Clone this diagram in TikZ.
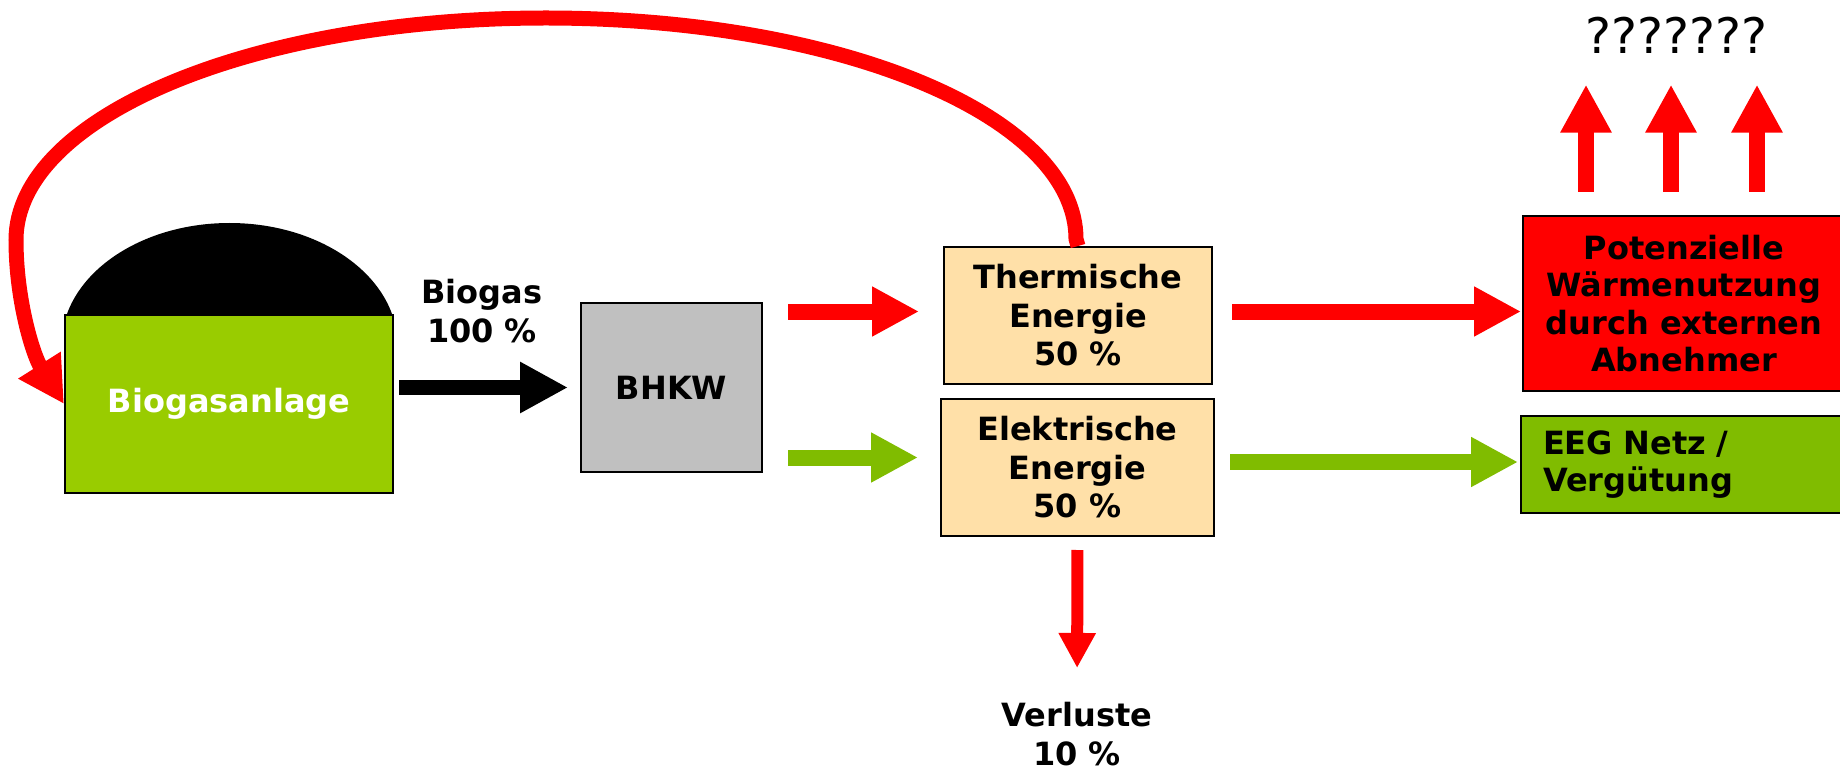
\documentclass[tikz,border=0pt]{standalone}
\usepackage{fontspec}
\setmainfont{DejaVu Sans}
\usepackage{xcolor}
\usepackage{tikz}
\usetikzlibrary{positioning,arrows.meta,calc}
\definecolor{heatred}{HTML}{FF0000}
\definecolor{powergreen}{HTML}{80BC00}
\definecolor{plantgreen}{HTML}{99CC00}
\definecolor{energybeige}{HTML}{FFE0A8}
\definecolor{bhkwgray}{HTML}{C0C0C0}

\begin{document}
\begin{tikzpicture}[x=0.5pt, y=-0.5pt,
  txt/.style={font=\fontsize{16}{19.25}\selectfont\bfseries, align=center, inner sep=0pt},
  box/.style={txt, draw, line width=1pt},
  energy/.style={box, fill=energybeige, minimum width=134pt, minimum height=68.5pt},
  heatflow/.style={-{Triangle[length=23.5pt,width=23.5pt]}, line width=8pt, heatred},
  powerflow/.style={-{Triangle[length=23.5pt,width=23.5pt]}, line width=8pt, powergreen},
  gasflow/.style={-{Triangle[length=24pt,width=24pt]}, line width=7.5pt, black},
  upflow/.style={-{Triangle[length=24pt,width=24pt]}, line width=8pt, heatred},
  lossflow/.style={-{Triangle[length=17.5pt,width=17.5pt]}, line width=6pt, heatred},
  backflow/.style={-{Triangle[length=23pt,width=23.5pt]}, line width=7.5pt, heatred},
]
\useasboundingbox (0,0) rectangle (1840,770);

% Plant and engine
\node[box, fill=plantgreen, text=white, minimum width=164pt, minimum height=89pt] (bio) at (229,404) {Biogasanlage};
\begin{scope}
  \clip (0,0) rectangle (bio.north east);
  \fill (229.5,345) ellipse [x radius=84pt, y radius=61pt];
\end{scope}
\node[txt] (gaslbl) at (482,311) {Biogas\\100 \%};
\node[box, fill=bhkwgray, minimum width=90.5pt, minimum height=84.5pt] (bhkw) at (671.5,387.5) {BHKW};

% Energy shares
\node[energy] (therm) at (1078,315.5) {Thermische\\Energie\\50 \%};
\node[energy, minimum width=136.5pt] (elek) at (1077.5,467.5) {Elektrische\\Energie\\50 \%};
\node[txt] (verl) at (1077,734) {Verluste\\10 \%};

% Consumers
\node[box, fill=heatred, minimum width=161pt, minimum height=87.5pt, font=\fontsize{16}{18.75}\selectfont\bfseries] (waerme) at (1684,303.5) {Potenzielle\\Wärmenutzung\\durch externen\\Abnehmer};
\node[box, fill=powergreen, align=left, text width=140pt, inner xsep=11pt, minimum height=48.5pt, font=\fontsize{16}{18.5}\selectfont\bfseries] (eeg) at (1683,464.5) {EEG Netz /\\Vergütung};
\node[inner sep=0pt, font=\fontsize{24.5}{29}\selectfont] (fragen) at (1676,35) {???????};

% Flows
\draw[gasflow, shorten <=2.5pt, shorten >=6pt] (bio.east |- bhkw.west) -- (bhkw.west);
\coordinate (thin) at ([yshift=2pt]therm.west);
\draw[heatflow, shorten <=12.5pt, shorten >=12pt] (bhkw.east |- thin) -- (thin);
\coordinate (elin) at ([yshift=5pt]elek.west);
\draw[powerflow, shorten <=12.5pt, shorten >=11pt] (bhkw.east |- elin) -- (elin);
\coordinate (thout) at ([yshift=2pt]therm.east);
\draw[heatflow, shorten <=9.5pt, shorten >=0.5pt] (thout) -- (thout -| waerme.west);
\coordinate (elout) at ([yshift=2.75pt]elek.east);
\draw[powerflow, shorten <=7.5pt, shorten >=1pt] (elout) -- (elout -| eeg.west);
\draw[lossflow, shorten <=6.5pt, shorten >=17pt] (elek.south) -- (verl.north);
\foreach \ux [count=\i] in {1586,1671,1757} {
  \coordinate (up\i) at (\ux,0);
  \draw[upflow, shorten <=11.5pt, shorten >=15.5pt] (waerme.north -| up\i) -- (fragen.south -| up\i);
}

% Heat fed back to the plant
\draw[backflow] (therm.north) -- ++(-2,-7) .. controls +(0,-123) and (840,18) .. (546,18)
  .. controls (252,18) and (16,117) .. (16,240) .. controls (16,300) and (33,355) .. (bio.west);
\end{tikzpicture}
\end{document}
